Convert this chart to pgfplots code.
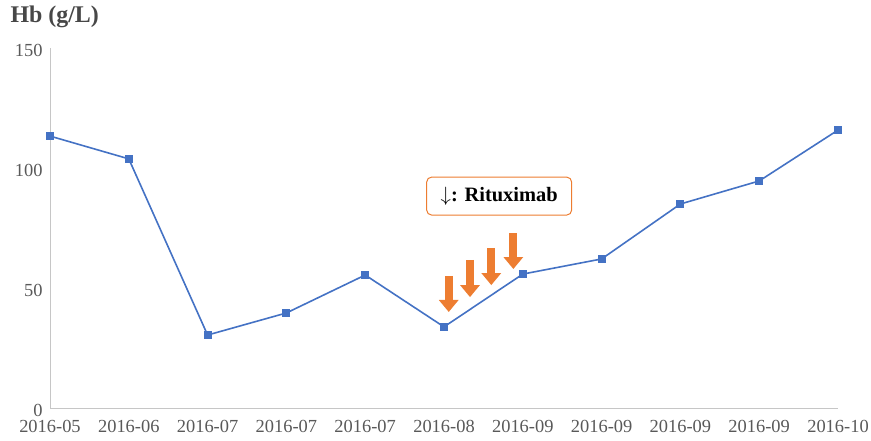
\documentclass[border=0pt]{standalone}
\usepackage{pgfplots}
\pgfplotsset{compat=1.18}
\usepackage{fontspec}
\setmainfont{Liberation Serif}
\usetikzlibrary{arrows.meta}
\definecolor{lineblue}{HTML}{4472C4}
\definecolor{arrorange}{HTML}{ED7D31}
\definecolor{txtgray}{HTML}{595959}
\begin{document}
\begin{tikzpicture}
\useasboundingbox (-50bp,-33bp) rectangle (821bp,408bp);
\begin{axis}[
  at={(0,0)}, anchor=south west,
  scale only axis, width=788bp, height=360bp,
  xmin=0, xmax=10, ymin=0, ymax=150,
  axis x line*=bottom, axis y line*=left,
  axis line style={draw=gray!45, line width=1bp, -},
  xtick={0,...,10},
  xticklabels={2016-05,2016-06,2016-07,2016-07,2016-07,2016-08,2016-09,2016-09,2016-09,2016-09,2016-10},
  ytick={0,50,100,150},
  major tick length=0pt,
  ticklabel style={font=\fontsize{18.5}{20}\selectfont, text=txtgray},
  xticklabel style={yshift=-9bp},
  yticklabel style={xshift=-4bp, yshift=-2bp},
  /pgf/number format/assume math mode=true,
  clip=false,
]
\addplot[color=lineblue, line width=1.6bp, mark=square*, mark size=3.2bp, mark options={fill=lineblue}]
coordinates {
(0,113.3) (1,103.8) (2,30.4) (3,39.6) (4,55.4) (5,33.8) (6,55.8) (7,62.1) (8,85.0) (9,94.6) (10,115.8)
};
\foreach \x/\ytop/\ytip in {5.06/55/40, 5.33/61.7/46.2, 5.60/66.7/51.2, 5.88/72.9/57.9}{
  \edef\temp{\noexpand\draw[arrorange, line width=8bp, -{Triangle[width=19bp,length=12bp]}] (axis cs:\x,\ytop) -- (axis cs:\x,\ytip);}
  \temp
}
\node[draw=arrorange, line width=1bp, rounded corners=5bp, fill=white,
      minimum width=145bp, minimum height=38bp,
      font=\fontsize{20.5}{22}\selectfont\bfseries]
  at (axis cs:5.70,88.3) {$\downarrow$: Rituximab};
\end{axis}
\node[anchor=west, font=\fontsize{24}{26}\selectfont\bfseries, text=txtgray!80!black] at (-43bp,391bp) {Hb (g/L)};
\end{tikzpicture}
\end{document}
